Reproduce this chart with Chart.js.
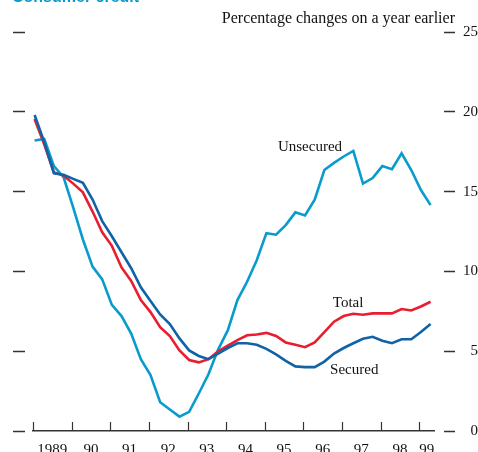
<!DOCTYPE html>
<html lang="en">
<head>
    <meta charset="UTF-8">
    <title>Lending to individuals</title>
    <script src="https://cdn.jsdelivr.net/npm/chart.js"></script>
    <style>
        body {
            margin: 0;
            background: #fff;
            font-family: 'Liberation Serif', 'Times New Roman', serif;
        }

        .wrap {
            position: relative;
            width: 478px;
            height: 452px;
            overflow: hidden;
        }

        /* heading cut off at the top edge */
        .heading {
            position: absolute;
            left: 12px;
            top: -11px;
            font: bold 16px 'Liberation Sans', Arial, sans-serif;
            line-height: 16px;
            color: #0a9bcd;
            white-space: nowrap;
        }

        .units {
            position: absolute;
            right: 23px;
            top: 10px;
            font-size: 16px;
            line-height: 16px;
            color: #111;
            white-space: nowrap;
        }

        canvas {
            position: absolute;
            left: 0;
            top: 0;
        }
    </style>
</head>
<body>
<div class="wrap">
    <canvas id="lendingChart" width="478" height="452"></canvas>
    <div class="heading">Consumer credit</div>
    <div class="units">Percentage changes on a year earlier</div>
</div>

<script>
// quarterly growth rates, % on a year earlier, 1989 Q1 - 1999 Q2
const unsecured = [18.2, 18.3, 16.6, 15.9, 14.0, 12.0, 10.3, 9.5, 7.9, 7.2,
    6.1, 4.5, 3.5, 1.8, 1.35, 0.9, 1.2, 2.35, 3.55, 5.1,
    6.3, 8.2, 9.35, 10.7, 12.4, 12.3, 12.9, 13.7, 13.5, 14.5,
    16.35, 16.8, 17.2, 17.55, 15.5, 15.85, 16.6, 16.4, 17.4, 16.35,
    15.1, 14.15];
const secured = [19.8, 18.1, 16.15, 16.05, 15.8, 15.55, 14.5, 13.15, 12.2, 11.2,
    10.2, 9.0, 8.15, 7.3, 6.7, 5.8, 5.05, 4.7, 4.5, 4.85,
    5.2, 5.5, 5.5, 5.4, 5.15, 4.8, 4.4, 4.05, 4.0, 4.0,
    4.35, 4.85, 5.2, 5.5, 5.78, 5.9, 5.65, 5.5, 5.75, 5.75,
    6.2, 6.7];
const total = [19.55, 17.95, 16.2, 16.0, 15.5, 14.95, 13.75, 12.45, 11.6, 10.25,
    9.4, 8.2, 7.45, 6.5, 5.95, 5.05, 4.45, 4.3, 4.5, 5.0,
    5.35, 5.7, 6.0, 6.05, 6.15, 5.95, 5.55, 5.4, 5.25, 5.55,
    6.2, 6.85, 7.2, 7.35, 7.28, 7.37, 7.37, 7.37, 7.64, 7.55,
    7.8, 8.1];

const years = [1989, 1990, 1991, 1992, 1993, 1994, 1995, 1996, 1997, 1998, 1999];
const yearLabels = ['1989', '90', '91', '92', '93', '94', '95', '96', '97', '98', '99'];
const yTicks = [0, 5, 10, 15, 20, 25];

// quarters, plotted at the middle of their first month
const quarters = [];
for (let i = 0; i < unsecured.length; i++) {
    const y = years[0] + Math.floor(i / 4);
    const q = i % 4 + 1;
    quarters.push({ label: y + ' Q' + q, x: y + (3 * (q - 1) + 0.5) / 12 });
}

const xMax = 1999.38;
const serif = '"Liberation Serif", "Times New Roman", serif';

function series(values) {
    return values.map((v, i) => ({ x: quarters[i].x, y: v }));
}

// year tick marks stand up from the axis; series names sit beside the lines
const decorations = {
    id: 'decorations',
    afterDatasetsDraw(chart) {
        const { ctx, scales: { x, y } } = chart;
        ctx.save();
        ctx.strokeStyle = '#333';
        ctx.lineWidth = 1.2;
        years.forEach(yr => {
            const px = Math.round(x.getPixelForValue(yr)) + 0.5;
            ctx.beginPath();
            ctx.moveTo(px, y.bottom);
            ctx.lineTo(px, y.bottom - 9);
            ctx.stroke();
        });

        ctx.fillStyle = '#111';
        ctx.font = '15px ' + serif;
        ctx.textBaseline = 'middle';
        ctx.textAlign = 'left';
        [['Unsecured', 1995.34, 17.8], ['Total', 1996.76, 8.0], ['Secured', 1996.69, 3.8]].forEach(([t, xv, yv]) => {
            ctx.fillText(t, x.getPixelForValue(xv), y.getPixelForValue(yv));
        });
        ctx.restore();
    }
};

new Chart(document.getElementById('lendingChart'), {
    type: 'line',
    data: {
        datasets: [
            { label: 'Secured', data: series(secured), borderColor: '#0f63a6' },
            { label: 'Total', data: series(total), borderColor: '#e81e30' },
            { label: 'Unsecured', data: series(unsecured), borderColor: '#0a9bcd' }
        ]
    },
    options: {
        responsive: false,
        animation: false,
        layout: { padding: { top: 32, left: 13, right: 0, bottom: 0 } },
        elements: {
            line: { borderWidth: 2.6, tension: 0, fill: false },
            point: { radius: 0 }
        },
        plugins: {
            legend: { display: false },
            tooltip: { enabled: false }
        },
        scales: {
            x: {
                type: 'linear',
                min: years[0],
                max: xMax,
                afterFit: s => { s.height = 21; },
                // labels sit in the middle of each year
                afterBuildTicks: s => {
                    s.ticks = years.map(yr => ({ value: (yr + Math.min(yr + 1, xMax)) / 2 }));
                },
                ticks: {
                    autoSkip: false,
                    maxRotation: 0,
                    padding: 10,
                    color: '#111',
                    font: { family: serif, size: 15 },
                    callback: (v, i) => yearLabels[i]
                },
                grid: { display: false, drawTicks: false },
                border: { display: true, color: '#333', width: 1.4 }
            },
            y: {
                position: 'right',
                min: 0,
                max: 25,
                afterFit: s => { s.width = 44; },
                afterBuildTicks: s => { s.ticks = yTicks.map(v => ({ value: v })); },
                ticks: {
                    padding: 7,
                    crossAlign: 'far',
                    color: '#111',
                    font: { family: serif, size: 15 }
                },
                grid: {
                    drawOnChartArea: false,
                    tickLength: 21,
                    tickColor: '#333',
                    tickWidth: 1.5,
                    tickBorderDash: [0, 10, 11, 100]
                },
                border: { display: false }
            },
            yLeft: {
                position: 'left',
                min: 0,
                max: 25,
                afterFit: s => { s.width = 20; },
                afterBuildTicks: s => { s.ticks = yTicks.map(v => ({ value: v })); },
                ticks: { display: false },
                grid: {
                    drawOnChartArea: false,
                    tickLength: 20,
                    tickColor: '#333',
                    tickWidth: 1.5,
                    tickBorderDash: [12, 100]
                },
                border: { display: false }
            }
        }
    },
    plugins: [decorations]
});
</script>
</body>
</html>
